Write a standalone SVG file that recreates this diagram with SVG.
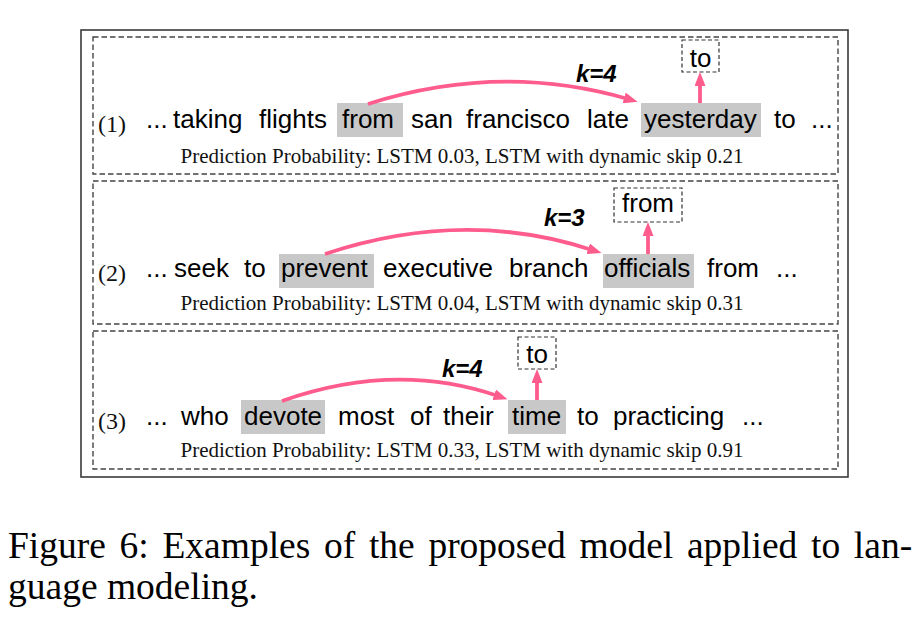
<svg xmlns="http://www.w3.org/2000/svg" width="924" height="624" viewBox="0 0 924 624">
<style>
.frame{fill:none;stroke:#3a3a3a;stroke-width:1.6}
.panel{fill:none;stroke:#444;stroke-width:1.4;stroke-dasharray:5.5 3}
.pbox{fill:none;stroke:#333;stroke-width:1.2;stroke-dasharray:4 2.5}
.hl{fill:#c8c8c8}
.w{font-family:"Liberation Sans",Arial,sans-serif;font-size:26px;fill:#000}
.num{font-family:"Liberation Serif","Times New Roman",serif;font-size:24px;fill:#111}
.prob{font-family:"Liberation Serif","Times New Roman",serif;font-size:21px;fill:#111;text-anchor:middle}
.k{font-family:"Liberation Sans",Arial,sans-serif;font-size:24px;font-weight:bold;font-style:italic;fill:#000}
.arr{fill:none;stroke:#ff5c8e;stroke-width:3.8}
.cap{font-family:"Liberation Serif","Times New Roman",serif;font-size:37.5px;fill:#000}
</style>
<defs>
<marker id="ah" markerUnits="userSpaceOnUse" markerWidth="14" markerHeight="11" refX="4" refY="5.5" orient="auto">
<path d="M0,0 L14,5.5 L0,11 z" fill="#ff5c8e"/>
</marker>
</defs>
<rect class="frame" x="81" y="30" width="767" height="447"/>

<g id="example1">
<rect class="panel" x="93" y="37" width="745" height="137"/>
<rect class="hl" x="337" y="103" width="66" height="34"/>
<rect class="hl" x="641" y="103" width="120" height="34"/>
<text class="num" x="98" y="132">(1)</text>
<text class="w" y="128"><tspan x="146">...</tspan><tspan x="173">taking</tspan><tspan x="259">flights</tspan><tspan x="342">from</tspan><tspan x="411">san</tspan><tspan x="466">francisco</tspan><tspan x="587">late</tspan><tspan x="644">yesterday</tspan><tspan x="774">to</tspan><tspan x="811">...</tspan></text>
<text class="prob" x="462" y="163">Prediction Probability: LSTM 0.03, LSTM with dynamic skip 0.21</text>
<text class="k" x="576" y="82">k=4</text>
</g>
<g id="pred1">
<rect class="pbox" x="682" y="40" width="37" height="32"/>
<text class="w" x="700.5" y="67" text-anchor="middle">to</text>
</g>

<g id="example2">
<rect class="panel" x="93" y="181" width="745" height="143"/>
<rect class="hl" x="279" y="254" width="95" height="34"/>
<rect class="hl" x="603" y="254" width="91" height="34"/>
<text class="num" x="98" y="281">(2)</text>
<text class="w" y="277"><tspan x="146">...</tspan><tspan x="174">seek</tspan><tspan x="244">to</tspan><tspan x="281">prevent</tspan><tspan x="383">executive</tspan><tspan x="509">branch</tspan><tspan x="604">officials</tspan><tspan x="707">from</tspan><tspan x="776">...</tspan></text>
<text class="prob" x="462" y="310">Prediction Probability: LSTM 0.04, LSTM with dynamic skip 0.31</text>
<text class="k" x="544" y="226">k=3</text>
</g>
<g id="pred2">
<rect class="pbox" x="614" y="188" width="68" height="34"/>
<text class="w" x="648" y="212" text-anchor="middle">from</text>
</g>

<g id="example3">
<rect class="panel" x="93" y="331" width="745" height="138"/>
<rect class="hl" x="241" y="400" width="84" height="34"/>
<rect class="hl" x="508" y="400" width="58" height="34"/>
<text class="num" x="98" y="429">(3)</text>
<text class="w" y="425"><tspan x="146">...</tspan><tspan x="181">who</tspan><tspan x="244">devote</tspan><tspan x="338">most</tspan><tspan x="410">of</tspan><tspan x="443">their</tspan><tspan x="512">time</tspan><tspan x="577">to</tspan><tspan x="613">practicing</tspan><tspan x="742">...</tspan></text>
<text class="prob" x="462" y="457">Prediction Probability: LSTM 0.33, LSTM with dynamic skip 0.91</text>
<text class="k" x="442" y="377">k=4</text>
</g>
<g id="pred3">
<rect class="pbox" x="518" y="337" width="38" height="32"/>
<text class="w" x="537" y="363" text-anchor="middle">to</text>
</g>

<g id="connectors">
<path class="arr" d="M368,104 Q500,62 628,99" marker-end="url(#ah)"/>
<path class="arr" d="M700,103 L700,82" marker-end="url(#ah)"/>
<path class="arr" d="M325,254 Q464,208 592,250" marker-end="url(#ah)"/>
<path class="arr" d="M648,254 L648,232" marker-end="url(#ah)"/>
<path class="arr" d="M282,401 Q395,361 498,396" marker-end="url(#ah)"/>
<path class="arr" d="M537,400 L537,379" marker-end="url(#ah)"/>
</g>

<text class="cap" x="8" y="558" word-spacing="4.3">Figure 6: Examples of the proposed model applied to lan-</text>
<text class="cap" x="8" y="599">guage modeling.</text>
</svg>
